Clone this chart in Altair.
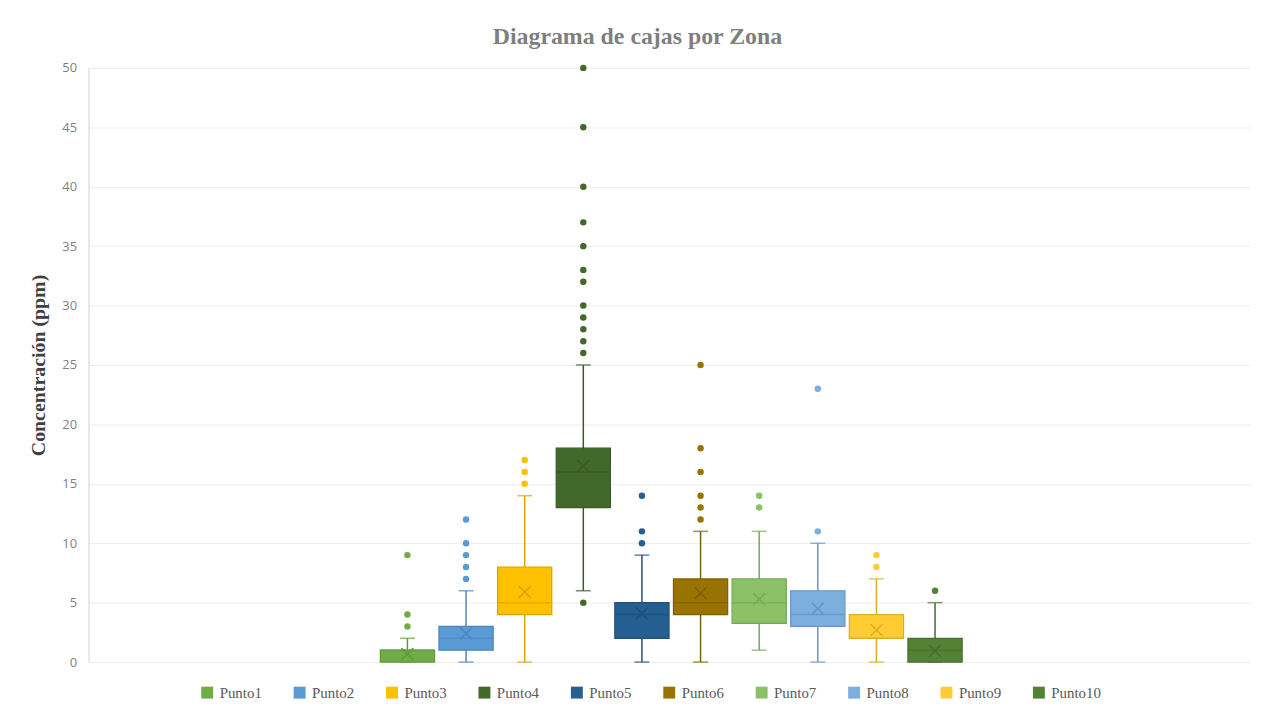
import altair as alt
import pandas as pd

# ---------------- data ----------------
puntos = ["Punto1", "Punto2", "Punto3", "Punto4", "Punto5",
          "Punto6", "Punto7", "Punto8", "Punto9", "Punto10"]
q1 = [0, 1, 4, 13, 2, 4, 3.25, 3, 2, 0]
median = [1, 2, 5, 16, 4, 5, 5, 4, 2, 1]
q3 = [1, 3, 8, 18, 5, 7, 7, 6, 4, 2]
whisker_low = [0, 0, 0, 6, 0, 0, 1, 0, 0, 0]
whisker_high = [2, 6, 14, 25, 9, 11, 11, 10, 7, 5]
mean = [0.67, 2.4, 5.9, 16.5, 4.1, 5.8, 5.3, 4.5, 2.7, 0.95]

out_punto1 = [3, 4, 9]
out_punto2 = [7, 8, 9, 10, 12]
out_punto3 = [15, 16, 17]
out_punto4 = [5, 26, 27, 28, 29, 30, 32, 33, 35, 37, 40, 45, 50]
out_punto5 = [10, 11, 14]
out_punto6 = [12, 13, 14, 16, 18, 25]
out_punto7 = [13, 14]
out_punto8 = [11, 23]
out_punto9 = [8, 9]
out_punto10 = [6]

y_ticks = [0, 5, 10, 15, 20, 25, 30, 35, 40, 45, 50]
zona = "Zona"

# ---------------- styles ----------------
fill_colors = ["#70AD47", "#5B9BD5", "#FFC000", "#43682B", "#255E91",
               "#997300", "#8CC168", "#7CAFDD", "#FFCD33", "#548235"]
line_colors = ["#5E9A39", "#4A86C0", "#D9A400", "#3A5A25", "#1F4F7A",
               "#7F6000", "#74A955", "#6396C6", "#DDAE22", "#466E2C"]

outliers = [out_punto1, out_punto2, out_punto3, out_punto4, out_punto5,
            out_punto6, out_punto7, out_punto8, out_punto9, out_punto10]

summary = pd.DataFrame({
    "zona": zona, "punto": puntos, "q1": q1, "median": median, "q3": q3,
    "lo": whisker_low, "hi": whisker_high, "mean": mean,
    "fill": fill_colors, "line": line_colors,
})
out_rows = []
for p, vals, f, l in zip(puntos, outliers, fill_colors, line_colors):
    for v in vals:
        out_rows.append({"zona": zona, "punto": p, "valor": v, "fill": f, "line": l})
out_df = pd.DataFrame(out_rows)

# one category ("Zona") across the whole plot; the ten series are grouped in its middle
xenc = alt.X("zona:N", scale=alt.Scale(paddingInner=0, paddingOuter=0), axis=None)
xoff = alt.XOffset("punto:N", sort=puntos,
                   scale=alt.Scale(domain=puntos, paddingInner=0.075,
                                   paddingOuter=0.0375, range=[291.5, 881.5]))
yscale = alt.Scale(domain=[0, 50], nice=False)

yaxis = alt.Axis(values=y_ticks, title="Concentración (ppm)", ticks=False,
                 labelFont="Open Sans", labelFontSize=13, labelColor="#7F7F7F",
                 labelPadding=12, domain=True, domainColor="#D9D9D9",
                 domainWidth=1.2, grid=True, gridColor="#EDEDED", gridWidth=1,
                 titleFont="Liberation Serif", titleFontSize=20,
                 titleFontWeight="bold", titleColor="#404040", titlePadding=13)

base = alt.Chart(summary).encode(x=xenc, xOffset=xoff)

whisker = base.mark_rule(strokeWidth=1.5).encode(
    y=alt.Y("lo:Q", scale=yscale, axis=yaxis),
    y2="hi:Q",
    stroke=alt.Stroke("line:N", scale=None),
)
cap_hi = base.mark_tick(size=15, thickness=1.5).encode(
    y=alt.Y("hi:Q", scale=yscale), color=alt.Color("line:N", scale=None))
cap_lo = base.mark_tick(size=15, thickness=1.5).encode(
    y=alt.Y("lo:Q", scale=yscale), color=alt.Color("line:N", scale=None))

box = base.mark_bar(strokeWidth=1.2).encode(
    y=alt.Y("q1:Q", scale=yscale),
    y2="q3:Q",
    fill=alt.Fill("punto:N", sort=puntos,
                  scale=alt.Scale(domain=puntos, range=fill_colors),
                  legend=alt.Legend(title=None, orient="none", legendX=112,
                                    legendY=621, direction="horizontal",
                                    columns=10, columnPadding=30,
                                    labelOffset=5, symbolType="square",
                                    symbolSize=144, symbolStrokeWidth=0,
                                    labelFont="Liberation Serif",
                                    labelFontSize=15, labelColor="#595959",
                                    padding=0)),
    stroke=alt.Stroke("line:N", scale=None),
)
med = base.mark_tick(size=54, thickness=1.5).encode(
    y=alt.Y("median:Q", scale=yscale), color=alt.Color("line:N", scale=None))
mean_pt = base.mark_point(shape="M-1,-1L1,1M1,-1L-1,1", size=144,
                          strokeWidth=1.5, filled=False, opacity=1).encode(
    y=alt.Y("mean:Q", scale=yscale), color=alt.Color("line:N", scale=None))

outl = alt.Chart(out_df).mark_point(filled=True, size=42, strokeWidth=0.8,
                                    opacity=1).encode(
    x=xenc, xOffset=xoff,
    y=alt.Y("valor:Q", scale=yscale),
    color=alt.Color("fill:N", scale=None),
)

chart = alt.layer(whisker, cap_hi, cap_lo, box, med, mean_pt, outl).resolve_scale(
    color="independent", stroke="independent"
).properties(
    width=1169, height=598,
    title=alt.TitleParams("Diagrama de cajas por Zona", font="Liberation Serif",
                          fontSize=24, fontWeight="bold", color="#7F7F7F",
                          anchor="middle", dx=-32, offset=13),
    autosize=alt.AutoSizeParams(type="none"),
    padding={"left": 81, "top": 58, "right": 4, "bottom": 50},
).configure_view(stroke=None)

chart.save("out.html", embed_options={"renderer": "svg", "actions": False})
